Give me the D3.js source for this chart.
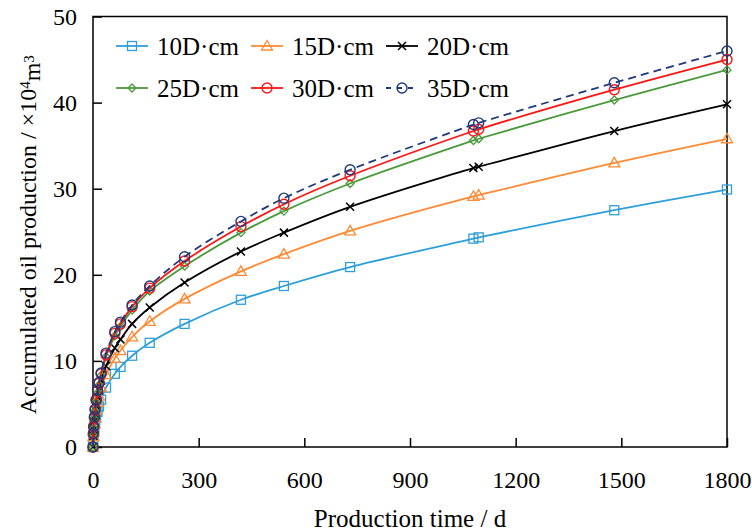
<!DOCTYPE html>
<html>
<head>
<meta charset="utf-8">
<script src="https://cdn.jsdelivr.net/npm/d3@7"></script>
<style>
  body { margin: 0; background: #fff; }
  text { font-family: "Liberation Serif", "Times New Roman", serif; fill: #000; }
</style>
</head>
<body>
<div id="wrapper"></div>
<script>
// production time (d)
const days = [0, 1, 2, 4, 6, 9, 13, 17, 23, 37, 62, 78, 111, 161, 260, 420, 542, 730, 1080, 1095, 1480, 1800]

// accumulated oil production (x10^4 m3)
const oil10 = [0, 0.9, 1.4, 2.1, 2.7, 3.4, 4.1, 4.7, 5.5, 6.9, 8.5, 9.3, 10.6, 12.1, 14.3, 17.1, 18.7, 20.9, 24.2, 24.35, 27.5, 29.9]
const oil15 = [0, 1.2, 1.8, 2.7, 3.4, 4.3, 5.2, 5.9, 6.9, 8.4, 10.3, 11.2, 12.8, 14.6, 17.2, 20.4, 22.4, 25.1, 29.1, 29.25, 33.0, 35.8]
const oil20 = [0, 1.3, 2.0, 3.0, 3.8, 4.8, 5.8, 6.6, 7.7, 9.4, 11.5, 12.5, 14.3, 16.2, 19.1, 22.7, 24.9, 27.9, 32.4, 32.55, 36.7, 39.8]
const oil25 = [0, 1.4, 2.2, 3.3, 4.2, 5.2, 6.3, 7.2, 8.3, 10.5, 12.9, 14.0, 15.9, 18.1, 21.0, 24.9, 27.4, 30.6, 35.6, 35.8, 40.3, 43.8]
const oil30 = [0, 1.5, 2.3, 3.4, 4.3, 5.4, 6.5, 7.4, 8.5, 10.7, 13.2, 14.3, 16.3, 18.45, 21.6, 25.6, 28.2, 31.5, 36.7, 36.9, 41.5, 45.0]
const oil35 = [0, 1.6, 2.4, 3.5, 4.4, 5.5, 6.6, 7.5, 8.6, 10.9, 13.4, 14.5, 16.5, 18.7, 22.1, 26.2, 28.9, 32.2, 37.45, 37.65, 42.3, 46.0]

const seriesNames = ["10D·cm", "15D·cm", "20D·cm", "25D·cm", "30D·cm", "35D·cm"]
const xTicks = [0, 300, 600, 900, 1200, 1500, 1800]
const yTicks = [0, 10, 20, 30, 40, 50]

const styles = [
    { color: "#2e9fd9", marker: "square" },
    { color: "#ff8a33", marker: "triangle" },
    { color: "#000000", marker: "cross" },
    { color: "#4a9a3c", marker: "diamond" },
    { color: "#ff1414", marker: "circle" },
    { color: "#1f3a7a", marker: "circle", dash: "8,5" },
]

const seriesData = [oil10, oil15, oil20, oil25, oil30, oil35].map((vals, i) => ({
    name: seriesNames[i],
    style: styles[i],
    points: vals.map((v, j) => ({ t: days[j], v: v })),
}))

let dimensions = {
    width: 752,
    height: 532,
    margin: { top: 16.5, right: 25, bottom: 85, left: 93 },
}
dimensions.boundedWidth = dimensions.width - dimensions.margin.left - dimensions.margin.right
dimensions.boundedHeight = dimensions.height - dimensions.margin.top - dimensions.margin.bottom

const svg = d3.select("#wrapper")
    .append("svg")
        .attr("width", dimensions.width)
        .attr("height", dimensions.height)

const bounds = svg.append("g")
    .attr("transform", `translate(${dimensions.margin.left},${dimensions.margin.top})`)

const xScale = d3.scaleLinear()
    .domain([0, 1800])
    .range([0, dimensions.boundedWidth])

const yScale = d3.scaleLinear()
    .domain([0, 50])
    .range([dimensions.boundedHeight, 0])

// axes (ticks pointing inward)
const xAxis = bounds.append("g")
    .attr("transform", `translate(0,${dimensions.boundedHeight})`)
    .call(d3.axisBottom(xScale).tickValues(xTicks).tickFormat(d3.format("d"))
        .tickSize(-9).tickPadding(24).tickSizeOuter(0))
const yAxis = bounds.append("g")
    .call(d3.axisLeft(yScale).tickValues(yTicks).tickFormat(d3.format("d"))
        .tickSize(-9).tickPadding(16).tickSizeOuter(0))

;[xAxis, yAxis].forEach(ax => {
    ax.select(".domain").remove()
    ax.selectAll(".tick line").attr("stroke", "#000").attr("stroke-width", 1.5)
    ax.selectAll(".tick text")
        .style("font-family", "'Liberation Serif', serif")
        .style("font-size", "24px")
        .attr("fill", "#000")
})
xAxis.selectAll(".tick text").attr("dy", "0.71em")

// frame
bounds.append("rect")
    .attr("width", dimensions.boundedWidth)
    .attr("height", dimensions.boundedHeight)
    .attr("fill", "none")
    .attr("stroke", "#000")
    .attr("stroke-width", 1.5)

const lineGen = d3.line()
    .x(d => xScale(d.t))
    .y(d => yScale(d.v))
    .curve(d3.curveCatmullRom.alpha(0.5))

function drawMarker(g, type, x, y, color) {
    const s = 4.5
    if (type === "square") {
        g.append("rect").attr("x", x - s).attr("y", y - s).attr("width", 2 * s).attr("height", 2 * s)
            .attr("fill", "none").attr("stroke", color).attr("stroke-width", 1.3)
    } else if (type === "triangle") {
        g.append("path").attr("d", `M${x},${y - 5.5}L${x + 5.5},${y + 4}L${x - 5.5},${y + 4}Z`)
            .attr("fill", "none").attr("stroke", color).attr("stroke-width", 1.3)
    } else if (type === "cross") {
        g.append("path").attr("d", `M${x - 4},${y - 4}L${x + 4},${y + 4}M${x - 4},${y + 4}L${x + 4},${y - 4}`)
            .attr("stroke", color).attr("stroke-width", 1.5)
    } else if (type === "diamond") {
        g.append("path").attr("d", `M${x},${y - 4}L${x + 4},${y}L${x},${y + 4}L${x - 4},${y}Z`)
            .attr("fill", "none").attr("stroke", color).attr("stroke-width", 1.3)
    } else if (type === "circle") {
        g.append("circle").attr("cx", x).attr("cy", y).attr("r", 5)
            .attr("fill", "none").attr("stroke", color).attr("stroke-width", 1.4)
    }
}

const seriesGroup = bounds.append("g")
seriesData.forEach(s => {
    const g = seriesGroup.append("g")
    g.append("path")
        .datum(s.points)
        .attr("d", lineGen)
        .attr("fill", "none")
        .attr("stroke", s.style.color)
        .attr("stroke-width", 1.8)
        .attr("stroke-dasharray", s.style.dash || null)
    s.points.forEach(p => drawMarker(g, s.style.marker, xScale(p.t), yScale(p.v), s.style.color))
})

// legend
const legend = svg.append("g")
const legendCols = [116, 251, 386]
const legendRows = [46, 88]
seriesData.forEach((s, i) => {
    const lx = legendCols[i % 3]
    const ly = legendRows[Math.floor(i / 3)]
    const g = legend.append("g")
    g.append("line")
        .attr("x1", lx).attr("x2", lx + 32)
        .attr("y1", ly).attr("y2", ly)
        .attr("stroke", s.style.color)
        .attr("stroke-width", 1.8)
        .attr("stroke-dasharray", s.style.dash ? "5,6" : null)
    drawMarker(g, s.style.marker, lx + 16, ly, s.style.color)
    g.append("text")
        .attr("x", lx + 41)
        .attr("y", ly)
        .attr("dy", "0.35em")
        .style("font-size", "25px")
        .text(s.name)
})

// axis titles
svg.append("text")
    .attr("x", dimensions.margin.left + dimensions.boundedWidth / 2)
    .attr("y", 527)
    .attr("text-anchor", "middle")
    .style("font-size", "25px")
    .text("Production time / d")

const yTitle = svg.append("text")
    .attr("transform", `translate(36,${dimensions.margin.top + dimensions.boundedHeight / 2 + 3}) rotate(-90)`)
    .attr("text-anchor", "middle")
    .style("font-size", "24px")
yTitle.append("tspan").text("Accumulated oil production / ×10")
yTitle.append("tspan").attr("dy", "-0.4em").style("font-size", "15px").text("4")
yTitle.append("tspan").attr("dy", "0.4em").text("m")
yTitle.append("tspan").attr("dy", "-0.4em").style("font-size", "15px").text("3")
</script>
</body>
</html>
